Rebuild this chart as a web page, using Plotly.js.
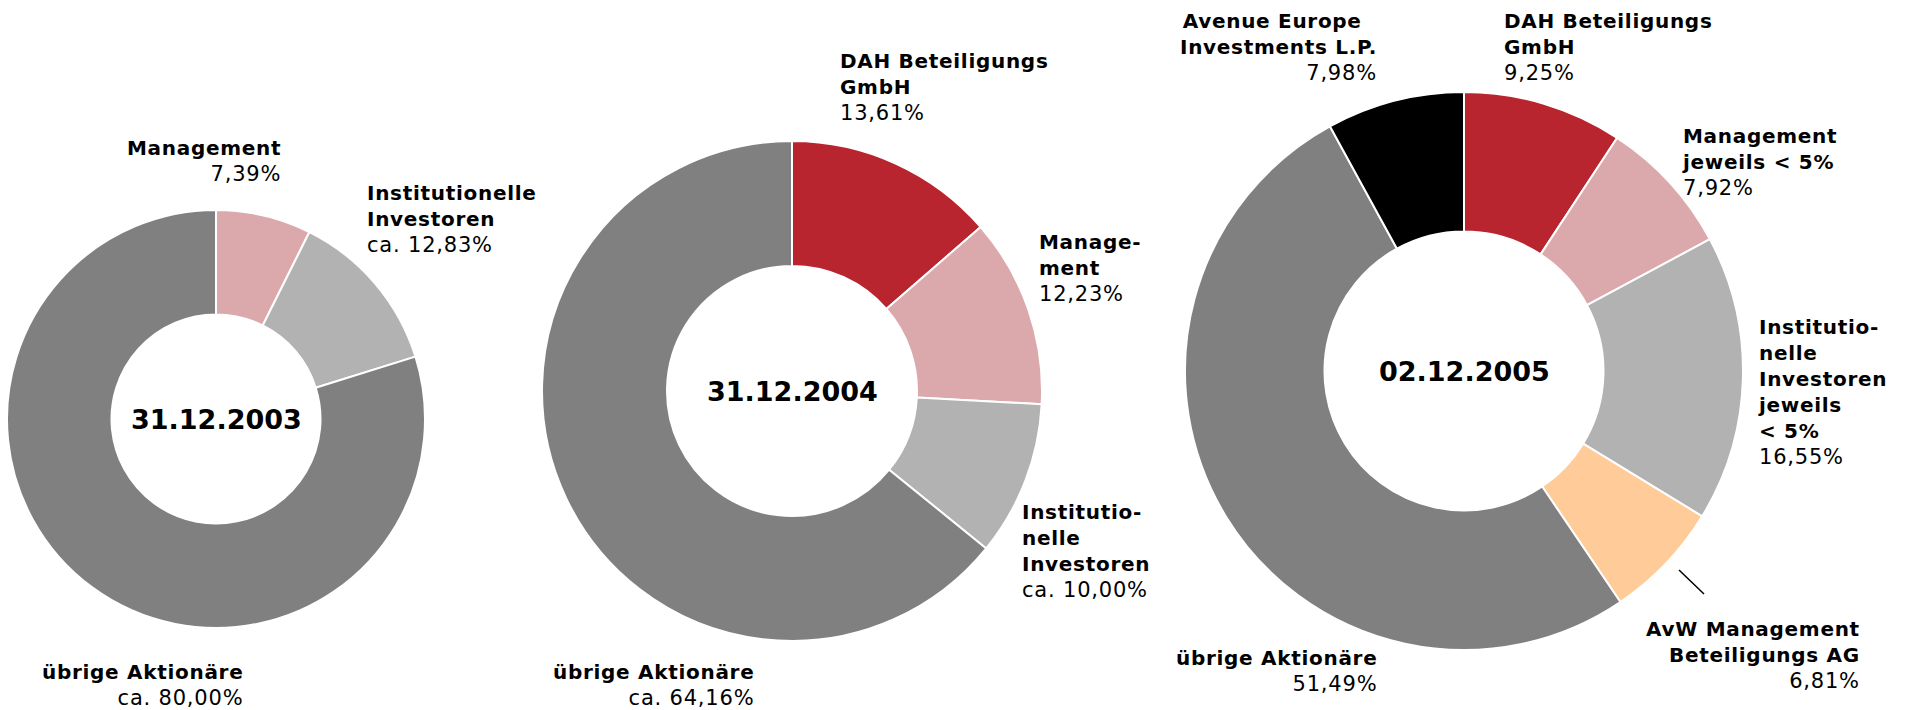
<!DOCTYPE html>
<html>
<head>
<meta charset="utf-8">
<script src="https://cdn.plot.ly/plotly-3.0.1.min.js"></script>
<style>html,body{margin:0;padding:0;background:#fff;}#chart{width:1906px;height:710px;}</style>
</head>
<body>
<div id="chart"></div>
<script>
// ---------- data ----------
const dates = ['31.12.2003', '31.12.2004', '02.12.2005'];

const labels2003 = ['Management', 'Institutionelle Investoren', 'übrige Aktionäre'];
const values2003 = [7.39, 12.83, 80.00];
const display2003 = ['Management', 'Institutionelle<br>Investoren', 'übrige Aktionäre'];
const prefix2003 = ['', 'ca. ', 'ca. '];

const labels2004 = ['DAH Beteiligungs GmbH', 'Management', 'Institutionelle Investoren', 'übrige Aktionäre'];
const values2004 = [13.61, 12.23, 10.00, 64.16];
const display2004 = ['DAH Beteiligungs<br>GmbH', 'Manage-<br>ment', 'Institutio-<br>nelle<br>Investoren', 'übrige Aktionäre'];
const prefix2004 = ['', '', 'ca. ', 'ca. '];

const labels2005 = ['DAH Beteiligungs GmbH', 'Management', 'Institutionelle Investoren', 'AvW Management Beteiligungs AG', 'übrige Aktionäre', 'Avenue Europe Investments L.P.'];
const values2005 = [9.25, 7.92, 16.55, 6.81, 51.49, 7.98];
const display2005 = ['DAH Beteiligungs<br>GmbH', 'Management<br>jeweils &lt; 5%', 'Institutio-<br>nelle<br>Investoren<br>jeweils<br>&lt; 5%', 'AvW Management<br>Beteiligungs AG', 'übrige Aktionäre', 'Avenue Europe&nbsp;&nbsp;<br>Investments L.P.'];
const prefix2005 = ['', '', '', '', '', ''];

// ---------- styles / layout ----------
const colorMap = {
  'Management': '#DBA9AB',
  'Institutionelle Investoren': '#B2B2B2',
  'übrige Aktionäre': '#808080',
  'DAH Beteiligungs GmbH': '#B8252E',
  'AvW Management Beteiligungs AG': '#FFCC99',
  'Avenue Europe Investments L.P.': '#000000'
};
const W = 1906, H = 710;
const FONT = 'DejaVu Sans, Verdana, sans-serif';
// pie geometry in pixels: center x, center y, radius
const geom = [
  {cx: 216, cy: 419, r: 209},
  {cx: 792, cy: 391, r: 250},
  {cx: 1464, cy: 371, r: 279}
];
// label placement in pixels: [x, top y, anchor]
const labelPos = [
  [[283, 134, 'right'], [365, 179, 'left'], [245, 658, 'right']],
  [[838, 47, 'left'], [1037, 228, 'left'], [1020, 498, 'left'], [756, 658, 'right']],
  [[1502, 7, 'left'], [1680, 122, 'left'], [1756, 313, 'left'], [1862, 615, 'right'], [1379, 644, 'right'], [1379, 7, 'right']]
];
const boldStyle = 'font-weight:bold;letter-spacing:0.7px';
const pctStyle = 'font-size:21px;letter-spacing:0.8px';

const sets = [
  {labels: labels2003, values: values2003, display: display2003, prefix: prefix2003},
  {labels: labels2004, values: values2004, display: display2004, prefix: prefix2004},
  {labels: labels2005, values: values2005, display: display2005, prefix: prefix2005}
];

const px = x => x / W;
const py = y => 1 - y / H;
const fmt = v => v.toFixed(2).replace('.', ',') + '%';

const traces = [];
const annotations = [];
sets.forEach((s, i) => {
  const g = geom[i];
  traces.push({
    type: 'pie',
    labels: s.labels,
    values: s.values,
    sort: false,
    direction: 'clockwise',
    rotation: 0,
    hole: 0.5,
    textinfo: 'none',
    hoverinfo: 'label+value',
    showlegend: false,
    marker: {colors: s.labels.map(l => colorMap[l]), line: {color: '#FFFFFF', width: 2}},
    domain: {x: [px(g.cx - g.r), px(g.cx + g.r)], y: [py(g.cy + g.r), py(g.cy - g.r)]}
  });
  annotations.push({
    xref: 'paper', yref: 'paper', x: px(g.cx), y: py(g.cy),
    xanchor: 'center', yanchor: 'middle', showarrow: false,
    text: '<b>' + dates[i] + '</b>',
    font: {family: FONT, size: 27, color: '#000'}
  });
  s.labels.forEach((l, j) => {
    const p = labelPos[i][j];
    const nameLines = s.display[j].split('<br>').map(t => '<span style="' + boldStyle + '">' + t + '</span>');
    annotations.push({
      xref: 'paper', yref: 'paper', x: px(p[0]), y: py(p[1]),
      xanchor: p[2], yanchor: 'top', align: p[2], showarrow: false,
      text: nameLines.join('<br>') + '<br><span style="' + pctStyle + '">' + s.prefix[j] + fmt(s.values[j]) + '</span>',
      font: {family: FONT, size: 20, color: '#000'}
    });
  });
});

const shapes = [{
  type: 'line', xref: 'paper', yref: 'paper',
  x0: px(1679), y0: py(570), x1: px(1704), y1: py(594),
  line: {color: '#000', width: 1.5}
}];

Plotly.newPlot('chart', traces, {
  width: W, height: H,
  margin: {l: 0, r: 0, t: 0, b: 0},
  paper_bgcolor: '#FFFFFF',
  plot_bgcolor: '#FFFFFF',
  annotations: annotations,
  shapes: shapes,
  font: {family: FONT}
}, {displayModeBar: false, staticPlot: true});
</script>
</body>
</html>
